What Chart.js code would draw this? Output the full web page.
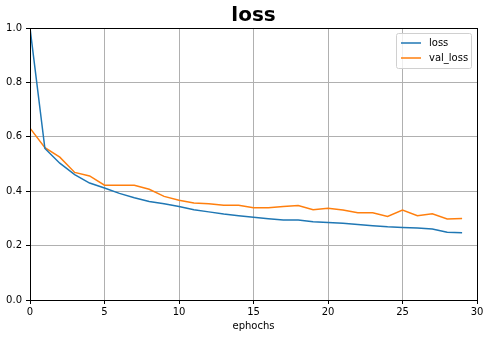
<!DOCTYPE html>
<html><head><meta charset="utf-8">
<script src="https://cdn.jsdelivr.net/npm/chart.js@4.4.0/dist/chart.umd.min.js"></script>
<style>html,body{margin:0;padding:0;background:#fff}#wrap{width:489px;height:338px}</style>
</head><body><div id="wrap"><canvas id="c" width="489" height="338"></canvas></div>
<script>
const epochs = [0,1,2,3,4,5,6,7,8,9,10,11,12,13,14,15,16,17,18,19,20,21,22,23,24,25,26,27,28,29];
const loss = [1.0,0.557,0.503,0.461,0.43,0.412,0.392,0.376,0.362,0.354,0.344,0.332,0.324,0.316,0.31,0.304,0.299,0.294,0.294,0.288,0.285,0.282,0.278,0.273,0.269,0.267,0.265,0.261,0.249,0.247];
const valLoss = [0.632,0.56,0.525,0.469,0.456,0.422,0.422,0.422,0.407,0.381,0.367,0.357,0.354,0.348,0.348,0.339,0.339,0.344,0.347,0.332,0.337,0.331,0.321,0.321,0.307,0.331,0.31,0.317,0.298,0.3];
const seriesNames = ["loss","val_loss"];
const titleText = "loss";
const xLabel = "ephochs";
const colors = ["#1f77b4","#ff7f0e"];
const F = "'DejaVu Sans', sans-serif";

const legendPlugin = {
  id:'boxLegend',
  afterDraw(chart){
    const ctx = chart.ctx, a = chart.chartArea;
    ctx.save();
    ctx.strokeStyle = '#000'; ctx.lineWidth = 1;
    ctx.strokeRect(Math.round(a.left)+0.5, Math.round(a.top)+0.5, Math.round(a.right-a.left), Math.round(a.bottom-a.top));
    ctx.fillStyle = '#000';
    ctx.font = "bold 20px " + F; ctx.textAlign = 'center'; ctx.textBaseline = 'alphabetic';
    ctx.fillText(titleText, (a.left + a.right)/2, 21);
    const w = 75, h = 35, x = a.right - 6 - w, y = a.top + 5;
    ctx.fillStyle = 'rgba(255,255,255,0.8)';
    ctx.strokeStyle = '#d0d0d0';
    ctx.beginPath();
    if (ctx.roundRect) ctx.roundRect(x+0.5, y+0.5, w, h, 2); else ctx.rect(x+0.5,y+0.5,w,h);
    ctx.fill(); ctx.stroke();
    ctx.font = "10px " + F; ctx.textBaseline = 'middle'; ctx.textAlign='left';
    seriesNames.forEach((n,i)=>{
      const ly = y + 10 + i*15;
      ctx.strokeStyle = colors[i]; ctx.lineWidth = 1.5;
      ctx.beginPath(); ctx.moveTo(x+5, ly); ctx.lineTo(x+25, ly); ctx.stroke();
      ctx.fillStyle = '#000'; ctx.fillText(n, x+33, ly);
    });
    ctx.restore();
  }
};

new Chart(document.getElementById('c'), {
  type:'line',
  data:{
    datasets:[
      {label:seriesNames[0], data:epochs.map((e,i)=>({x:e,y:loss[i]})), borderColor:colors[0], borderWidth:1.5, pointRadius:0, fill:false, tension:0},
      {label:seriesNames[1], data:epochs.map((e,i)=>({x:e,y:valLoss[i]})), borderColor:colors[1], borderWidth:1.5, pointRadius:0, fill:false, tension:0}
    ]
  },
  options:{
    responsive:false, animation:false, devicePixelRatio:1,
    layout:{padding:{left:0,right:12,top:28,bottom:6}},
    plugins:{ legend:{display:false}, tooltip:{enabled:false}, title:{display:false} },
    scales:{
      x:{type:'linear', min:0, max:30,
        ticks:{stepSize:5, color:'#000', font:{family:F,size:10}, padding:2, maxRotation:0},
        grid:{color:'#b0b0b0', tickColor:'#000', tickLength:4, lineWidth:1},
        border:{color:'#000', width:1},
        title:{display:true, text:xLabel, color:'#000', font:{family:F,size:10}, padding:{top:0,bottom:0}},
        afterFit(s){s.height = 32;}
      },
      y:{min:0, max:1,
        ticks:{stepSize:0.2, color:'#000', font:{family:F,size:10}, padding:4, callback:v=>Number(v).toFixed(1)},
        grid:{color:'#b0b0b0', tickColor:'#000', tickLength:4, lineWidth:1},
        border:{color:'#000', width:1},
        afterFit(s){s.width = 30;}
      }
    }
  },
  plugins:[legendPlugin]
});
</script></body></html>
